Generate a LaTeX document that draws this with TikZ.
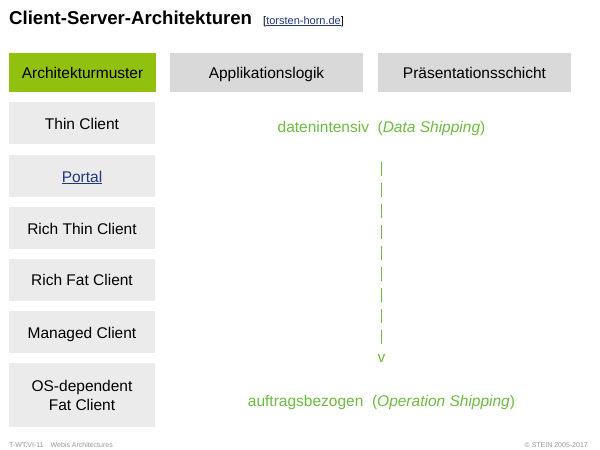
\documentclass[tikz,border=0pt]{standalone}
\usepackage{fontspec}
\setmainfont{Liberation Sans}
\usepackage{xcolor}
\usepackage{tikz}
\usetikzlibrary{positioning}

\definecolor{archgreen}{RGB}{146,192,14}
\definecolor{headgray}{RGB}{217,217,217}
\definecolor{rowgray}{RGB}{235,235,235}
\definecolor{shipgreen}{RGB}{108,188,64}
\definecolor{linkblue}{RGB}{30,55,125}
\definecolor{footgray}{RGB}{150,150,150}

\newcommand{\boxfont}{\fontsize{15.5}{19}\selectfont}

\begin{document}
\begin{tikzpicture}[
  x=1pt, y=-1pt,
  cell/.style={rectangle, minimum height=39pt, inner sep=0pt, font=\boxfont, align=center},
  single/.style={text height=13pt, text depth=1pt},
  headbox/.style={cell, single, fill=headgray, minimum width=193pt},
  greenbox/.style={cell, single, fill=archgreen, minimum width=147pt},
  rowbox/.style={cell, fill=rowgray, minimum width=146pt, minimum height=42pt},
  shiptext/.style={font=\boxfont, text=shipgreen, inner sep=0pt},
  foot/.style={font=\fontsize{7}{8}\selectfont, text=footgray, inner sep=0pt},
  flow/.style={shipgreen, line width=0.8pt, dash pattern=on 14pt off 7pt},
]
\useasboundingbox (0,0) rectangle (600,450);

% Title
\node[anchor=base west, inner sep=0pt, font=\fontsize{18.6}{22}\selectfont\bfseries] (title) at (9,24) {Client-Server-Architekturen};
\node[anchor=base west, inner sep=0pt, font=\fontsize{11}{13}\selectfont] (link) at (263,24) {[\textcolor{linkblue}{\underline{torsten-horn.de}}]};

% Header row
\node[greenbox] (arch) at (82.5,72.5) {Architekturmuster};
\node[headbox] (app) at (266.5,72.5) {Applikationslogik};
\node[headbox] (pres) at (474.5,72.5) {Präsentationsschicht};

% Architecture patterns
\node[rowbox, single] (thin) at (82,123) {Thin Client};
\node[rowbox, single] (portal) at (82,176) {\textcolor{linkblue}{\underline{Portal}}};
\node[rowbox, single] (richthin) at (82,228) {Rich Thin Client};
\node[rowbox, single] (richfat) at (82,279.5) {Rich Fat Client};
\node[rowbox, single] (managed) at (82,332) {Managed Client};
\node[rowbox, minimum height=64pt] (osdep) at (82,395) {OS-dependent\\Fat Client};

% Data vs. operation shipping
\node[shiptext] (data) at (381.5,128) {datenintensiv\ \ (\textit{Data Shipping})};
\node[shiptext] (tip) at (381.5,358) {v};
\node[shiptext] (oper) at (381.5,402) {auftragsbezogen\ \ (\textit{Operation Shipping})};
\draw[flow, shorten <=27pt, shorten >=9pt] (data) -- (tip);

% Footer
\node[foot, anchor=base west] (slide) at (9,447) {T-WT:VI-11\quad Webis Architectures};
\node[foot, anchor=base east] (copy) at (588,447) {© STEIN 2005-2017};
\end{tikzpicture}
\end{document}
